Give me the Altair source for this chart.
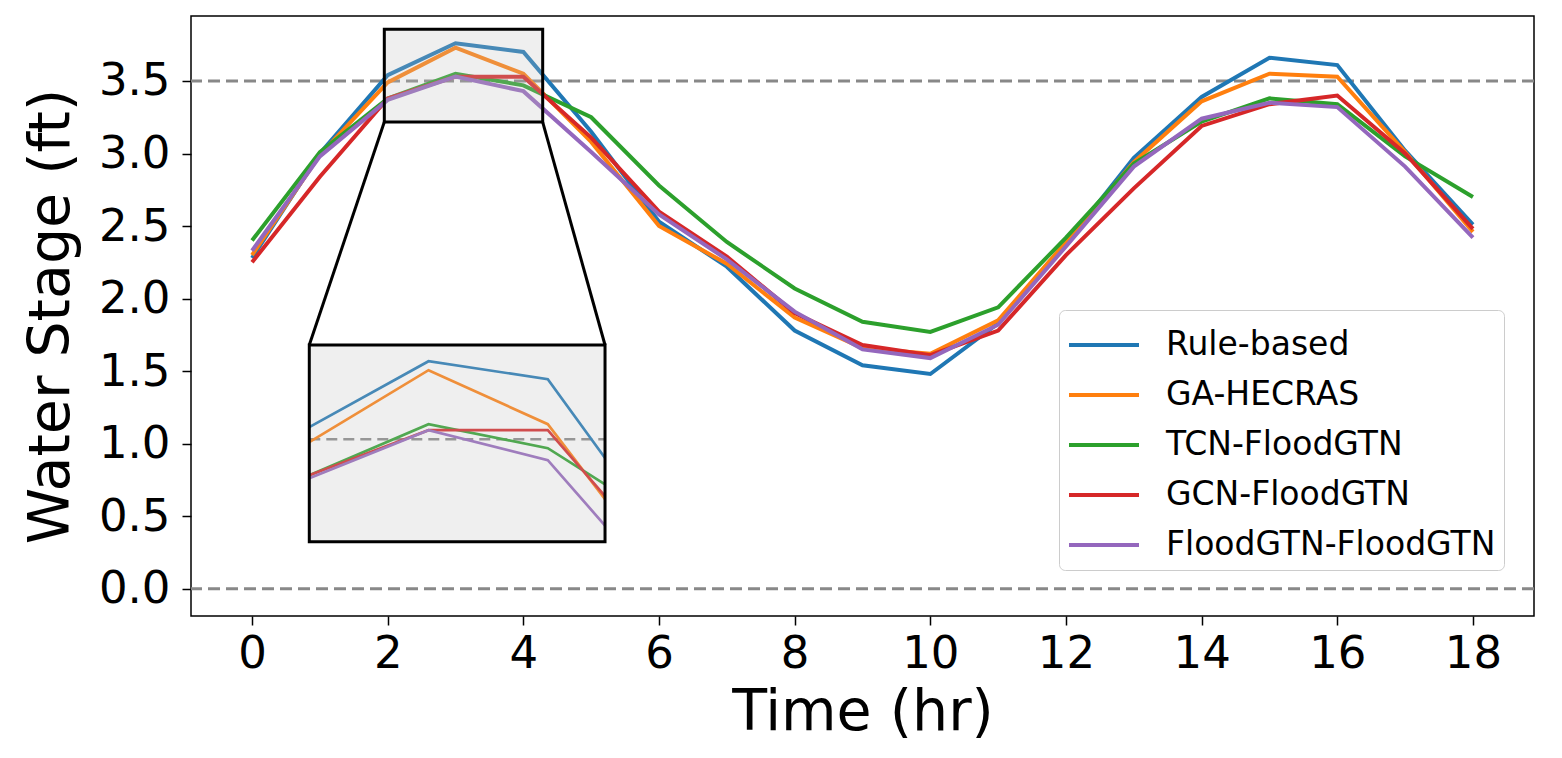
import altair as alt
import pandas as pd

# ---------------- data ----------------
hours = list(range(19))
series_names = ["Rule-based", "GA-HECRAS", "TCN-FloodGTN", "GCN-FloodGTN", "FloodGTN-FloodGTN"]
series_colors = ["#1f77b4", "#ff7f0e", "#2ca02c", "#d62728", "#9467bd"]

rule_based = [2.28, 3.00, 3.54, 3.76, 3.70, 3.15, 2.53, 2.22, 1.78, 1.54, 1.48, 1.83, 2.38, 2.97, 3.39, 3.66, 3.61, 3.02, 2.51]
ga_hecras = [2.30, 2.99, 3.49, 3.73, 3.55, 3.08, 2.50, 2.24, 1.87, 1.66, 1.62, 1.85, 2.39, 2.94, 3.36, 3.55, 3.53, 3.01, 2.46]
tcn_floodgtn = [2.40, 3.01, 3.38, 3.55, 3.47, 3.25, 2.78, 2.39, 2.07, 1.84, 1.77, 1.94, 2.42, 2.93, 3.22, 3.38, 3.34, 2.98, 2.70]
gcn_floodgtn = [2.25, 2.84, 3.38, 3.53, 3.53, 3.11, 2.60, 2.29, 1.90, 1.68, 1.61, 1.78, 2.30, 2.76, 3.19, 3.34, 3.40, 3.00, 2.48]
floodgtn_floodgtn = [2.33, 2.98, 3.37, 3.53, 3.43, 3.01, 2.58, 2.27, 1.91, 1.65, 1.59, 1.82, 2.36, 2.91, 3.24, 3.35, 3.32, 2.91, 2.42]
all_series = [rule_based, ga_hecras, tcn_floodgtn, gcn_floodgtn, floodgtn_floodgtn]

reference_levels = [0.0, 3.5]

# inset (zoomed view) window and the values where each line leaves its right edge
inset_x_range = [2.0, 4.48]
inset_y_range = [3.158, 3.814]
inset_hours = [2, 3, 4]
inset_edge_values = [3.437, 3.30, 3.349, 3.31, 3.212]

# zoom-marker rectangle on the main axes (data coords)
zoom_rect = dict(x0=1.95, x1=4.285, y0=3.217, y1=3.856)
# where the inset box sits on the main axes (data coords)
inset_box = dict(x0=0.844, x1=5.204, y0=0.324, y1=1.680)

# ---------------- tables ----------------
rows = []
for name, vals in zip(series_names, all_series):
    for h, v in zip(hours, vals):
        rows.append({"series": name, "hour": h, "stage": v})
df = pd.DataFrame(rows)

def to_box_x(h):
    return inset_box["x0"] + (h - inset_x_range[0]) / (inset_x_range[1] - inset_x_range[0]) * (inset_box["x1"] - inset_box["x0"])

def to_box_y(v):
    return inset_box["y0"] + (v - inset_y_range[0]) / (inset_y_range[1] - inset_y_range[0]) * (inset_box["y1"] - inset_box["y0"])

irows = []
for name, vals, edge in zip(series_names, all_series, inset_edge_values):
    for h in inset_hours:
        irows.append({"series": name, "bx": to_box_x(h), "by": to_box_y(vals[h]), "k": h})
    irows.append({"series": name, "bx": to_box_x(inset_x_range[1]), "by": to_box_y(edge), "k": 99})
idf = pd.DataFrame(irows)

ref_df = pd.DataFrame({"level": reference_levels})
rect_df = pd.DataFrame([zoom_rect])
box_df = pd.DataFrame([inset_box])
conn_df = pd.DataFrame({
    "x": [zoom_rect["x0"], zoom_rect["x1"]],
    "y": [zoom_rect["y0"], zoom_rect["y0"]],
    "x2": [inset_box["x0"], inset_box["x1"]],
    "y2": [inset_box["y1"], inset_box["y1"]],
})
inset_ref_df = pd.DataFrame({"x": [inset_box["x0"]], "x2": [inset_box["x1"]], "y": [to_box_y(3.5)]})

# ---------------- scales / axes ----------------
FONT = "DejaVu Sans"
xscale = alt.Scale(domain=[-0.9, 18.9], nice=False, zero=False)
yscale = alt.Scale(domain=[-0.188, 3.948], nice=False, zero=False)
xaxis = alt.Axis(values=list(range(0, 19, 2)), title="Time (hr)", format="d")
yaxis = alt.Axis(values=[0.0, 0.5, 1.0, 1.5, 2.0, 2.5, 3.0, 3.5], title="Water Stage (ft)", format=".1f")
color_scale = alt.Scale(domain=series_names, range=series_colors)

def X(field):
    return alt.X(field, type="quantitative", scale=xscale, axis=xaxis)

def Y(field):
    return alt.Y(field, type="quantitative", scale=yscale, axis=yaxis)

legend = alt.Legend(
    title=None, orient="none", legendX=868, legendY=294,
    symbolType="M-1,0L1.8,0", symbolSize=2500, symbolStrokeWidth=4,
    labelFontSize=33, labelFont=FONT, labelColor="black", labelOffset=45,
    labelLimit=0, padding=8, fillColor="white", strokeColor="#cccccc", cornerRadius=6,
    rowPadding=6,
)

ref_lines = alt.Chart(ref_df).mark_rule(color="#888888", strokeWidth=3, strokeDash=[12, 6]).encode(y=Y("level"))

main_lines = alt.Chart(df).mark_line(strokeWidth=4).encode(
    x=X("hour"), y=Y("stage"),
    color=alt.Color("series:N", scale=color_scale, legend=legend, sort=series_names),
)

zoom_mark = alt.Chart(rect_df).mark_rect(fill="#c0c0c0", fillOpacity=0.25, stroke="black", strokeWidth=3).encode(
    x=X("x0"), x2="x1", y=Y("y0"), y2="y1")

connectors = alt.Chart(conn_df).mark_rule(color="black", strokeWidth=3).encode(
    x=X("x"), y=Y("y"), x2="x2", y2="y2")

inset_bg = alt.Chart(box_df).mark_rect(fill="white").encode(x=X("x0"), x2="x1", y=Y("y0"), y2="y1")

inset_ref = alt.Chart(inset_ref_df).mark_rule(color="#888888", strokeWidth=2.5, strokeDash=[11, 6]).encode(
    x=X("x"), x2="x2", y=Y("y"))

inset_lines = alt.Chart(idf).mark_line(strokeWidth=2.7).encode(
    x=X("bx"), y=Y("by"), order="k:Q",
    color=alt.Color("series:N", scale=color_scale, legend=legend, sort=series_names),
)

inset_frame = alt.Chart(box_df).mark_rect(fill="#c0c0c0", fillOpacity=0.25, stroke="black", strokeWidth=3).encode(
    x=X("x0"), x2="x1", y=Y("y0"), y2="y1")

chart = alt.layer(
    ref_lines, main_lines, zoom_mark, connectors, inset_bg, inset_ref, inset_lines, inset_frame
).properties(
    width=1343, height=600,
    padding={"left": 14, "top": 8, "right": 10, "bottom": 5},
    background="white",
).configure_view(
    stroke="black", strokeWidth=1.5
).configure_axis(
    labelFont=FONT, titleFont=FONT, labelColor="black", titleColor="black",
    grid=False, domain=False, tickColor="black", tickWidth=1.5, tickSize=9,
    titleFontWeight="normal",
).configure_axisX(
    labelFontSize=45, titleFontSize=57, labelPadding=6, titlePadding=8, labelAngle=0,
).configure_axisY(
    labelFontSize=45, titleFontSize=57, labelPadding=12, titlePadding=18,
)

chart.save("out.html", embed_options={"renderer": "svg", "actions": False})
